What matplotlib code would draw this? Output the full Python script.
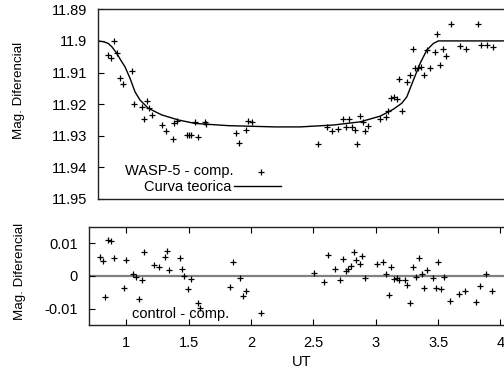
import matplotlib
matplotlib.use("Agg")
import matplotlib.pyplot as plt
from matplotlib.lines import Line2D
from matplotlib.ticker import FixedLocator, FuncFormatter

plt.rcParams['font.family'] = ['Liberation Sans', 'DejaVu Sans']
plt.rcParams['axes.unicode_minus'] = False

# ---- data: WASP-5 - comp. ----
wasp_t = [0.782, 0.804, 0.831, 0.853, 0.878, 0.900, 0.974, 0.995, 1.056, 1.077,
          1.097, 1.118, 1.143, 1.223, 1.258, 1.310, 1.323, 1.343, 1.430, 1.447,
          1.463, 1.496, 1.518, 1.573, 1.586, 1.827, 1.854, 1.909, 1.931, 1.958,
          2.500, 2.579, 2.617, 2.669, 2.710, 2.734, 2.754, 2.779, 2.803, 2.822,
          2.844, 2.871, 2.890, 2.915, 3.011, 3.058, 3.079, 3.104, 3.126, 3.148,
          3.169, 3.194, 3.235, 3.257, 3.279, 3.301, 3.323, 3.345, 3.369, 3.394,
          3.419, 3.460, 3.481, 3.503, 3.525, 3.550, 3.596, 3.670, 3.716, 3.812,
          3.842, 3.889, 3.935]
wasp_mag = [11.9045, 11.9055, 11.8999, 11.9039, 11.9116, 11.9136, 11.9094, 11.9200, 11.9210, 11.9248,
            11.9189, 11.9213, 11.9234, 11.9266, 11.9286, 11.9309, 11.9259, 11.9253, 11.9298, 11.9297,
            11.9297, 11.9258, 11.9303, 11.9258, 11.9264, 11.9291, 11.9323, 11.9282, 11.9253, 11.9257,
            11.9327, 11.9272, 11.9285, 11.9278, 11.9248, 11.9272, 11.9248, 11.9272, 11.9283, 11.9327,
            11.9239, 11.9256, 11.9285, 11.9268, 11.9246, 11.9241, 11.9222, 11.9180, 11.9177, 11.9185,
            11.9120, 11.9223, 11.9131, 11.9107, 11.9025, 11.9087, 11.9087, 11.9084, 11.9107, 11.9030,
            11.9087, 11.9035, 11.8978, 11.9077, 11.9025, 11.9047, 11.8947, 11.9016, 11.9025, 11.8947,
            11.9014, 11.9014, 11.9019]

# ---- theoretical curve ----
curve_t = [0.700, 0.747, 0.782, 0.812, 0.851, 0.886, 0.919, 0.960, 1.001, 1.042,
           1.110, 1.220, 1.356, 1.493, 1.766, 1.958, 2.150, 2.355, 2.628, 2.847,
           3.011, 3.120, 3.189, 3.230, 3.284, 3.339, 3.394, 3.448, 3.489, 4.100]
curve_mag = [11.9000, 11.9003, 11.9008, 11.9019, 11.9039, 11.9062, 11.9082, 11.9118, 11.9161, 11.9187,
             11.9213, 11.9234, 11.9250, 11.9261, 11.9268, 11.9270, 11.9272, 11.9272, 11.9266, 11.9256,
             11.9238, 11.9216, 11.9197, 11.9177, 11.9124, 11.9071, 11.9029, 11.9008, 11.9000, 11.9000]

# ---- data: control - comp. ----
ctrl_t = [0.786, 0.812, 0.831, 0.852, 0.879, 0.901, 0.978, 0.999, 1.055, 1.079,
          1.099, 1.123, 1.141, 1.221, 1.259, 1.312, 1.328, 1.344, 1.432, 1.448,
          1.462, 1.497, 1.518, 1.577, 1.593, 1.831, 1.858, 1.914, 1.938, 1.959,
          2.505, 2.583, 2.617, 2.671, 2.716, 2.735, 2.759, 2.780, 2.802, 2.823,
          2.844, 2.871, 2.890, 2.914, 3.010, 3.058, 3.080, 3.106, 3.125, 3.147,
          3.168, 3.189, 3.232, 3.253, 3.277, 3.299, 3.325, 3.344, 3.368, 3.390,
          3.414, 3.459, 3.481, 3.499, 3.526, 3.548, 3.596, 3.668, 3.713, 3.807,
          3.839, 3.887, 3.935]
ctrl_mag = [0.0057, 0.0044, -0.0064, 0.0109, 0.0106, 0.0053, -0.0038, 0.0049, 0.0005, -0.0004,
            -0.0072, -0.0012, 0.0072, 0.0034, 0.0026, 0.0058, 0.0077, 0.0017, 0.0053, 0.0020,
            0.0000, -0.0041, -0.0009, -0.0082, -0.0097, -0.0035, 0.0041, -0.0007, -0.0061, -0.0046,
            0.0010, -0.0018, 0.0063, 0.0022, -0.0012, 0.0050, 0.0015, 0.0022, 0.0030, 0.0074,
            0.0049, 0.0037, 0.0060, -0.0008, 0.0036, 0.0041, 0.0005, -0.0058, 0.0026, -0.0009,
            -0.0007, -0.0014, -0.0012, -0.0028, -0.0082, 0.0026, -0.0004, 0.0055, 0.0005, -0.0038,
            0.0018, -0.0007, -0.0038, 0.0042, -0.0041, -0.0002, -0.0078, -0.0055, -0.0046, -0.0081,
            -0.0031, 0.0005, -0.0045]

top_yticks = [11.89, 11.90, 11.91, 11.92, 11.93, 11.94, 11.95]
bot_yticks = [-0.01, 0.0, 0.01]
bot_xticks = [1, 1.5, 2, 2.5, 3, 3.5, 4]

W, H = 504, 371
fig = plt.figure(figsize=(W / 100, H / 100), dpi=100)

def px_box(l, r, t, b):
    return [l / W, 1 - b / H, (r - l) / W, (b - t) / H]

fmt = FuncFormatter(lambda v, p: ('%g' % round(v, 4)))
tick_fs = 10.5

# ---------- top panel ----------
ax1 = fig.add_axes(px_box(98.3, 512.9, 9.3, 199.0))
ax1.plot(wasp_t, wasp_mag, linestyle='none', marker='+', color='black',
         markersize=5, markeredgewidth=0.9)
ax1.plot(curve_t, curve_mag, color='black', linewidth=1.0)
ax1.set_xlim(0.7, 4.1)
ax1.set_ylim(11.95, 11.89)
ax1.yaxis.set_major_locator(FixedLocator(top_yticks))
ax1.yaxis.set_major_formatter(fmt)
ax1.set_xticks([])
ax1.tick_params(axis='y', direction='in', length=4, width=0.8, pad=8,
                labelsize=tick_fs, left=True, right=True)
for s in ax1.spines.values():
    s.set_linewidth(1.0)
    s.set_color('#222222')

# legend (gnuplot style: right-justified text, sample on right)
ax1.text(0.325, 0.145, 'WASP-5 - comp.', transform=ax1.transAxes,
         ha='right', va='center', fontsize=10.5)
ax1.text(0.322, 0.063, 'Curva teorica', transform=ax1.transAxes,
         ha='right', va='center', fontsize=10.5)
ax1.add_line(Line2D([0.392], [0.144], transform=ax1.transAxes, marker='+',
                    linestyle='none', color='black', markersize=5, markeredgewidth=0.9))
ax1.add_line(Line2D([0.327, 0.441], [0.0685, 0.0685], transform=ax1.transAxes,
                    color='black', linewidth=1.0))

# ---------- bottom panel ----------
ax2 = fig.add_axes(px_box(89.0, 512.9, 226.7, 325.0))
ax2.axhline(0, color='#808080', linewidth=1.6, zorder=1)
ax2.plot(ctrl_t, ctrl_mag, linestyle='none', marker='+', color='black',
         markersize=5, markeredgewidth=0.9, zorder=3)
ax2.set_xlim(0.7, 4.1)
ax2.set_ylim(-0.015, 0.015)
ax2.xaxis.set_major_locator(FixedLocator(bot_xticks))
ax2.yaxis.set_major_locator(FixedLocator(bot_yticks))
ax2.xaxis.set_major_formatter(fmt)
ax2.yaxis.set_major_formatter(fmt)
ax2.tick_params(axis='both', direction='in', length=4, width=0.8,
                labelsize=tick_fs, top=True, right=True)
ax2.tick_params(axis='y', pad=8)
ax2.tick_params(axis='x', pad=8)
for s in ax2.spines.values():
    s.set_linewidth(1.0)
    s.set_color('#222222')

ax2.text(0.330, 0.112, 'control - comp.', transform=ax2.transAxes,
         ha='right', va='center', fontsize=10.5)
ax2.add_line(Line2D([0.405], [0.124], transform=ax2.transAxes, marker='+',
                    linestyle='none', color='black', markersize=5, markeredgewidth=0.9))

# axis labels
fig.text(19 / W, 1 - 90.5 / H, 'Mag. Diferencial', rotation=90,
         ha='center', va='center', fontsize=9.6)
fig.text(20.5 / W, 1 - 271.5 / H, 'Mag. Diferencial', rotation=90,
         ha='center', va='center', fontsize=9.6)
fig.text(302 / W, 1 - 361.7 / H, 'UT', ha='center', va='center', fontsize=10.5)

fig.savefig('out.png', dpi=100)
